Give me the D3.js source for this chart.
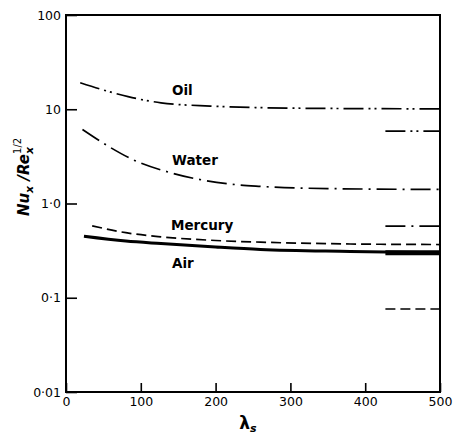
<!DOCTYPE html>
<html><head><meta charset="utf-8">
<script src="https://cdn.jsdelivr.net/npm/d3@7/dist/d3.min.js"></script>
<style>body{margin:0;background:#fff}svg{display:block}</style>
</head><body>
<script>
// ---- data ----
const oilLambda   = [19, 50, 83, 127, 193, 260, 350, 500];
const oilValues   = [19.1, 16.0, 13.6, 11.7, 10.8, 10.4, 10.2, 10.1];
const waterLambda = [22, 60, 87, 140, 216, 260, 350, 500];
const waterValues = [6.1, 3.9, 2.98, 2.12, 1.62, 1.52, 1.44, 1.41];
const mercLambda  = [35, 80, 127, 200, 260, 380, 500];
const mercValues  = [0.58, 0.49, 0.443, 0.405, 0.389, 0.372, 0.367];
const airLambda   = [24, 80, 127, 200, 260, 380, 500];
const airValues   = [0.45, 0.40, 0.376, 0.345, 0.325, 0.31, 0.30];
// short limiting segments at the right edge (lambda 425..500)
const limitRange  = [427, 500];
const limitOil    = 5.85;
const limitWater  = 0.574;
const limitMerc   = 0.076;
const limitAir    = 0.30;
const xTicks = [0, 100, 200, 300, 400, 500];
const yTicks = [0.01, 0.1, 1, 10, 100];
const yTickLabels = ["0·01", "0·1", "1·0", "10", "100"];

const W = 456, H = 439;
const svg = d3.select("body").append("svg").attr("width", W).attr("height", H);
const x = d3.scaleLinear().domain([0, 500]).range([66, 440]);
const y = d3.scaleLog().domain([0.01, 100]).range([392, 15]);

const font = "'DejaVu Sans', sans-serif";

// frame
svg.append("rect").attr("x", x(0)).attr("y", y(100)).attr("width", x(500) - x(0)).attr("height", y(0.01) - y(100))
  .attr("fill", "none").attr("stroke", "#000").attr("stroke-width", 2);

// y axis (inward ticks)
const yAxis = d3.axisLeft(y).tickValues(yTicks).tickSizeInner(-11).tickSizeOuter(0).tickPadding(16)
  .tickFormat((d, i) => yTickLabels[i]);
const gy = svg.append("g").attr("transform", `translate(${x(0)},0)`).call(yAxis);
gy.select(".domain").remove();
gy.selectAll("line").attr("stroke-width", 1.6);
gy.selectAll("text").attr("font-family", font).attr("font-size", 12.5).attr("fill", "#000").attr("x", -5);

// x axis (inward ticks)
const xAxis = d3.axisBottom(x).tickValues(xTicks).tickSizeInner(-9).tickSizeOuter(0).tickPadding(12);
const gx = svg.append("g").attr("transform", `translate(0,${y(0.01)})`).call(xAxis);
gx.select(".domain").remove();
gx.selectAll("line").attr("stroke-width", 1.6);
gx.selectAll("text").attr("font-family", font).attr("font-size", 12.5).attr("fill", "#000").attr("y", 5).attr("dy", "0.71em");

// curves
const line = d3.line().x(d => x(d[0])).y(d => y(d[1])).curve(d3.curveMonotoneX);
function series(lam, val, dash, width) {
  svg.append("path").datum(lam.map((l, i) => [l, val[i]]))
    .attr("d", line).attr("fill", "none").attr("stroke", "#000")
    .attr("stroke-width", width).attr("stroke-dasharray", dash);
}
function limit(v, dash, width) {
  svg.append("path").datum(limitRange.map(l => [l, v]))
    .attr("d", d3.line().x(d => x(d[0])).y(d => y(d[1]))).attr("fill", "none").attr("stroke", "#000")
    .attr("stroke-width", width).attr("stroke-dasharray", dash);
}
const dashDotDot = "20,5,2,4,2,5";
const dashDot = "20,6,2,6";
const dashed = "10,5";
series(oilLambda, oilValues, dashDotDot, 1.7);
series(waterLambda, waterValues, dashDot, 1.7);
series(mercLambda, mercValues, dashed, 1.7);
series(airLambda, airValues, null, 3);
limit(limitOil, dashDotDot, 1.7);
limit(limitWater, dashDot, 1.7);
limit(limitMerc, dashed, 1.7);
limit(limitAir, null, 5);

// curve labels
const labels = [["Oil", 172, 95], ["Water", 172, 165], ["Mercury", 171, 230], ["Air", 172, 268]];
svg.selectAll(".lab").data(labels).enter().append("text")
  .attr("x", d => d[1]).attr("y", d => d[2]).text(d => d[0])
  .attr("font-family", font).attr("font-weight", "bold").attr("font-size", 13.5);

// axis titles
const xt = svg.append("text").attr("x", 248).attr("y", 429).attr("text-anchor", "middle")
  .attr("font-family", font).attr("font-weight", "bold").attr("font-size", 17);
xt.append("tspan").text("λ");
xt.append("tspan").text("s").attr("font-size", 11).attr("dy", 3).attr("font-style", "italic");

const yt = svg.append("text").attr("transform", "translate(29,177) rotate(-90)").attr("text-anchor", "middle")
  .attr("font-family", font).attr("font-weight", "bold").attr("font-style", "italic").attr("font-size", 15);
yt.append("tspan").text("Nu");
yt.append("tspan").text("x").attr("font-size", 11).attr("dy", 4);
yt.append("tspan").text(" /Re").attr("font-size", 15).attr("dy", -4);
yt.append("tspan").text("x").attr("font-size", 11).attr("dy", 4);
yt.append("tspan").text("1/2").attr("font-size", 10).attr("dx", -7).attr("dy", -12).attr("font-style", "normal").attr("font-weight", "normal");
</script>
</body></html>
